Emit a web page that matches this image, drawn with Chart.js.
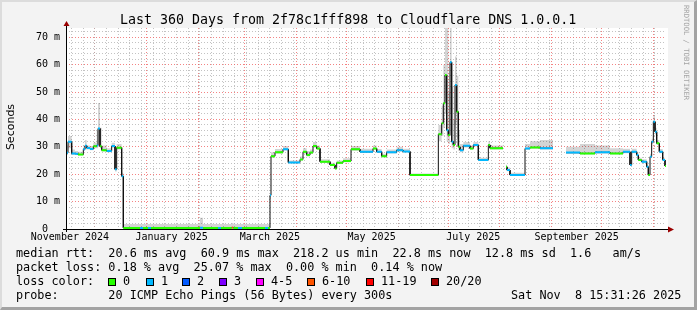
<!DOCTYPE html>
<html><head><meta charset="utf-8">
<script src="https://cdn.jsdelivr.net/npm/chart.js@4.4.1/dist/chart.umd.min.js"></script>
<style>
html,body{margin:0;padding:0;background:#f3f3f3;}
#wrap{position:relative;width:697px;height:310px;background:#f3f3f3;overflow:hidden;font-family:'DejaVu Sans Mono',monospace;color:#000;}
#bd{position:absolute;left:0;top:0;width:697px;height:310px;box-sizing:border-box;border-style:solid;border-width:2px 3px 3px 2px;border-color:#dcdcdc #a3a3a3 #a3a3a3 #dcdcdc;pointer-events:none;}
#c{position:absolute;left:0;top:0;}
.t{position:absolute;white-space:pre;line-height:1;}
.lg{font-size:11.8px;}
.box{position:absolute;width:6px;height:6px;border:1px solid #000;top:277.5px;}
</style></head><body>
<div id="wrap">
<canvas id="c" width="697" height="310"></canvas>
<div id="bd"></div>
<div class="t" id="title" style="left:120px;top:12.8px;font-size:13.3px;">Last 360 Days from 2f78c1fff898 to Cloudflare DNS 1.0.0.1</div>
<div class="t" style="left:10px;top:127px;font-family:'DejaVu Sans';font-size:11px;transform:translate(-50%,-50%) rotate(-90deg);">Seconds</div>
<div class="t" id="wm" style="left:683px;top:5px;font-size:7.2px;color:#a4a4a4;writing-mode:vertical-rl;">RRDTOOL / TOBI OETIKER</div>
<div class="t lg" id="l1" style="left:16px;top:247.7px;"></div>
<div class="t lg" id="l2" style="left:16px;top:261.7px;"></div>
<div class="t lg" id="l3" style="left:16px;top:275.7px;"></div>
<div class="t lg" id="l4" style="left:16px;top:289.7px;"></div>
<div class="t lg" id="l5" style="top:289.7px;left:511px;"></div>
</div>
<script>
// ---------- data ----------
const startUTC = Date.UTC(2024,10,13,15,31,26);
const spanDays = 360;
const lossColors = ['#26ff00','#00b8ff','#0059ff','#7e00ff','#ff00ff','#ff5500','#ff0000','#a10000'];
const lossLabels = ['0','1','2','3','4-5','6-10','11-19','20/20'];
const monthLabels = ['November 2024','January 2025','March 2025','May 2025','July 2025','September 2025'];
const monthLabelDates = [[2024,10,16],[2025,0,16],[2025,2,16],[2025,4,16],[2025,6,16],[2025,8,16]];
const yMaxMs = 73.4;

// median steps: start day (days since start of graph), median rtt ms, loss class, smoke high/low ms
const stepDay = [0,1.2,3.4,5.4,7.2,10.4,11.4,12.4,14.4,16.4,18.4,19.2,20.4,21.4,24.4,27.4,29.4,30.4,33.4,
 34.4,44.4,46.2,49.2,51.0,80.4,82.2,91.2,93.0,99.4,100.4,103.2,105.6,119.4,121.2,
 122.4,123.0,125.4,130.2,133.4,140.4,142.2,144.4,146.4,148.2,150.4,152.4,158.4,161.4,162.4,166.2,171.0,176.4,184.2,186.4,189.4,192.4,198.4,202.2,
 206.4,223.4,225.4,226.4,227.4,228.4,229.4,230.4,231.4,232.4,233.4,234.4,235.4,236.4,238.4,242.4,244.4,247.4,253.4,254.4,
 262.2,264.0,264.6,266.4,275.4,278.4,284.4,292.2,
 300.0,308.4,317.4,326.4,334.2,338.4,339.4,342.4,343.4,345.4,348.4,349.4,350.4,351.4,352.4,353.4,354.4,356.0,358.0,359.4];
const medianMs = [27.8,31.9,27.6,27.5,27.2,29.1,30.4,29.6,29.2,30.2,30.5,36.7,30.2,28.8,28.5,30.3,21.8,29.7,19.3,
 0.4,0.4,0.4,0.4,0.4,0.5,0.4,0.4,0.4,0.5,0.4,0.4,0.4,0.4,0.4,
 12.3,26.6,28.0,29.1,24.3,25.4,28.2,27.0,27.9,30.3,29.4,24.6,23.4,22.1,24.2,24.8,29.1,28.2,29.4,28.2,26.6,28.0,28.8,28.3,
 19.7,34.6,38.6,45.9,56.2,36.1,34.3,60.9,31.9,30.7,52.6,42.8,30.0,28.8,30.4,29.4,30.7,25.2,30.7,29.5,
 null,22.7,21.5,19.7,29.4,29.8,29.5,null,
 27.9,27.6,28.0,27.6,28.2,23.4,28.2,27.0,25.2,24.6,22.7,19.7,26.4,31.9,39.2,35.5,31.3,28.2,25.2,23.0];
const lossIdx = [1,1,1,1,0,1,1,1,1,0,1,1,0,0,1,1,1,0,1,
 0,1,0,1,0,1,0,1,0,5,0,1,0,1,0,
 1,0,0,1,1,0,0,0,0,0,0,0,0,0,0,0,0,1,0,1,0,1,1,1,
 0,0,0,0,0,1,0,1,1,0,1,0,0,1,1,0,1,1,0,0,
 0,0,1,1,1,0,1,0,
 1,0,1,0,1,1,1,1,0,1,1,0,1,1,1,1,0,1,1,0];
const smokeHiMs = [30.5,34,29,28.5,28.2,30.5,32.5,30.5,30.3,31.5,36,46,37,30.5,29.5,31.5,30,31,20.5,
 1.8,1.8,1.8,1.8,1.8,4.1,1.8,1.8,1.8,2.2,1.8,1.8,1.8,1.8,1.8,
 13,28,29.2,30.3,25,26.5,29.5,28.5,29,31.8,30.5,25.5,24.2,23,25,25.8,30.3,29.3,30.5,29.2,27.5,29,30,29.3,
 20.3,38,45,60,73.4,73.4,50,73.4,52,40,63,56,36,31,31.8,30.5,31.8,26,32,30.5,
 null,23.5,22.5,20.5,31,32,32.5,null,
 30,31,30.5,29.5,29.3,24.5,29.3,28,26,25.5,23.5,20.5,27.5,33,41.5,37,32.5,29.2,26,24];
const smokeLoMs = [27,29.5,27,27,26.8,28.5,29,29,28.8,29.5,29.5,30,29.5,28.3,28,29.7,21,29,19,
 0.2,0.2,0.2,0.2,0.2,0.2,0.2,0.2,0.2,0.2,0.2,0.2,0.2,0.2,0.2,
 11,26,27.5,28.7,24,25,27.5,26.5,27.4,29.7,28.9,24.2,23,21.7,23.8,24.4,28.6,27.8,28.9,27.8,26.2,27.6,28.3,27.9,
 19.4,32,34,37,42,32,31,42,29.5,29,38,33,28.5,28,29.8,28.9,30.1,24.8,30,29,
 null,22.2,21.1,19.4,28.9,29.3,29,null,
 27.4,27.2,27.5,27.2,27.7,23,27.7,26.6,24.8,24.2,22.3,19.4,26,31,36,34.5,30.8,27.7,24.8,22.6];

// legend text
const legendLine1 = 'median rtt:  20.6 ms avg  60.9 ms max  218.2 us min  22.8 ms now  12.8 ms sd  1.6   am/s';
const legendLine2 = 'packet loss: 0.18 % avg  25.07 % max  0.00 % min  0.14 % now';
const legendLine3 = 'loss color:';
const legendLine4 = 'probe:       20 ICMP Echo Pings (56 Bytes) every 300s';
const legendDate = 'Sat Nov  8 15:31:26 2025';
const lossBoxX = [108,146,182,219,256,307,366,431];

// ---------- helpers ----------
const dayOf = (y,m,d) => (Date.UTC(y,m,d) - startUTC)/864e5;

document.getElementById('l1').textContent = legendLine1;
document.getElementById('l2').textContent = legendLine2;
document.getElementById('l3').textContent = legendLine3;
document.getElementById('l4').textContent = legendLine4;
document.getElementById('l5').textContent = legendDate;
(function(){
  const w = document.getElementById('wrap');
  lossLabels.forEach((lab,i)=>{
    const b=document.createElement('div'); b.className='box'; b.style.background=lossColors[i]; b.style.left=lossBoxX[i]+'px';
    w.appendChild(b);
    const t=document.createElement('div'); t.className='t lg'; t.style.left=(lossBoxX[i]+15)+'px'; t.style.top='275.7px'; t.textContent=lab;
    w.appendChild(t);
  });
})();

function stepPoints(vals){
  const pts=[];
  for(let i=0;i<stepDay.length;i++){
    const x0=stepDay[i], x1=(i+1<stepDay.length)?stepDay[i+1]:spanDays;
    const v=vals[i];
    if(v===null){pts.push({x:x0,y:null});continue;}
    pts.push({x:x0,y:v},{x:x1,y:v});
  }
  return pts;
}
function classPoints(c){
  const pts=[];
  for(let i=0;i<stepDay.length;i++){
    if(lossIdx[i]!==c||medianMs[i]===null) continue;
    const x0=stepDay[i], x1=(i+1<stepDay.length)?stepDay[i+1]:spanDays;
    pts.push({x:x0,y:medianMs[i]},{x:x1,y:medianMs[i]},{x:x1,y:null});
  }
  return pts;
}

// x ticks
const xTicks=[];
for(let m=0;m<12;m++){ const y=2024+Math.floor((11+m)/12), mo=(11+m)%12; xTicks.push({value:dayOf(y,mo,1),kind:'major'}); }
for(let d=dayOf(2024,10,17); d<spanDays; d+=7){ xTicks.push({value:d,kind:'minor'}); }
monthLabelDates.forEach((a,i)=>xTicks.push({value:dayOf(a[0],a[1],a[2]),kind:'label',lbl:monthLabels[i]}));
xTicks.sort((a,b)=>a.value-b.value);
const yTicks=[];
for(let v=0; v<=72; v+=2){ yTicks.push({value:v,kind:(v%10===0)?'major':'minor'}); }

const RED='rgba(240,90,90,0.75)', GRAY='rgba(175,175,175,0.75)';
const gridColor = ctx => { const t=ctx.tick; if(!t) return GRAY; return t.kind==='major'?RED:(t.kind==='label'?'rgba(0,0,0,0)':GRAY); };

const datasets=[];
lossColors.forEach((col,c)=>datasets.push({data:classPoints(c),borderColor:col,borderWidth:2,pointRadius:0,fill:false,order:1,borderCapStyle:'butt'}));
datasets.push({data:stepPoints(medianMs),borderColor:'#111',borderWidth:1,pointRadius:0,fill:false,order:2});
datasets.push({data:stepPoints(smokeHiMs),borderColor:'rgba(0,0,0,0)',borderWidth:1,pointRadius:0,fill:'+1',backgroundColor:'rgba(0,0,0,0.17)',order:3});
datasets.push({data:stepPoints(smokeLoMs),borderColor:'rgba(0,0,0,0)',borderWidth:1,pointRadius:0,fill:false,order:3});

const frame={
  id:'frame',
  beforeDraw(chart){const {ctx,chartArea:a}=chart;ctx.save();ctx.fillStyle='#fff';ctx.fillRect(a.left,a.top,a.right-a.left+2,a.bottom-a.top);ctx.restore();},
  afterDraw(chart){
    const {ctx,chartArea:a}=chart; ctx.save();
    const bx=Math.round(a.left)+0.5, by=Math.round(a.bottom)+0.5;
    ctx.strokeStyle='#000';ctx.lineWidth=1;
    ctx.beginPath();ctx.moveTo(a.left-3,by);ctx.lineTo(a.right+4,by);ctx.stroke();
    ctx.beginPath();ctx.moveTo(bx,a.bottom+3);ctx.lineTo(bx,a.top-3);ctx.stroke();
    ctx.fillStyle='#9a0000';
    ctx.beginPath();ctx.moveTo(a.right+2,by-3);ctx.lineTo(a.right+8,by);ctx.lineTo(a.right+2,by+3);ctx.closePath();ctx.fill();
    ctx.beginPath();ctx.moveTo(bx-3,a.top-2);ctx.lineTo(bx,a.top-7);ctx.lineTo(bx+3,a.top-2);ctx.closePath();ctx.fill();
    ctx.restore();
  }
};

new Chart(document.getElementById('c'),{
  type:'line',
  data:{datasets},
  plugins:[frame],
  options:{
    responsive:false,animation:false,devicePixelRatio:1,events:[],
    layout:{padding:{left:0,right:31,top:28,bottom:61}},
    plugins:{legend:{display:false},tooltip:{enabled:false},title:{display:false}},
    scales:{
      x:{type:'linear',min:0,max:spanDays,
        afterFit(s){s.height=20;},
        afterBuildTicks(s){s.ticks=xTicks.map(t=>Object.assign({},t));},
        grid:{color:gridColor,drawTicks:false,lineWidth:1},
        border:{display:false,dash:[1,2]},
        ticks:{autoSkip:false,maxRotation:0,padding:2,color:'#000',font:{family:"'DejaVu Sans Mono'",size:10},
          callback(v,i,ticks){return ticks[i].lbl||'';}}
      },
      y:{type:'linear',min:0,max:yMaxMs,
        afterFit(s){s.width=66;},
        afterBuildTicks(s){s.ticks=yTicks.map(t=>Object.assign({},t));},
        grid:{color:gridColor,drawTicks:false,lineWidth:1},
        border:{display:false,dash:[1,2]},
        ticks:{autoSkip:false,padding:6,color:'#000',font:{family:"'DejaVu Sans Mono'",size:10},
          callback(v,i,ticks){const t=ticks[i]; if(t.kind!=='major') return ''; return v===0?'0  ':(v+' m');}}
      }
    }
  }
});
</script>
</body></html>
